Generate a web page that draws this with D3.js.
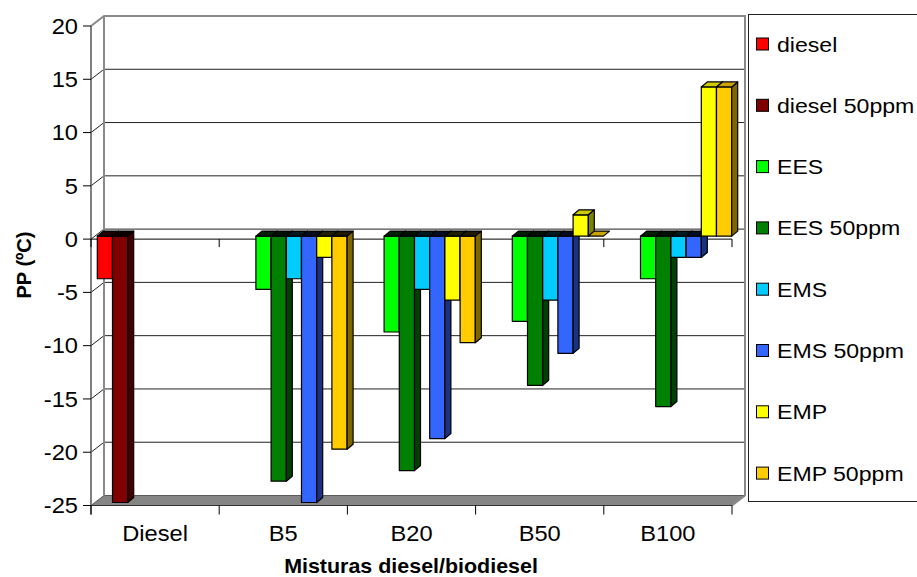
<!DOCTYPE html>
<html>
<head>
<meta charset="utf-8">
<script src="https://cdn.jsdelivr.net/npm/d3@7"></script>
<style>
  html, body { margin: 0; padding: 0; background: #fff; }
  svg { display: block; font-family: Arial, "Liberation Sans", sans-serif; }
</style>
</head>
<body>
<svg id="chart" width="917" height="577"></svg>
<script>
// PP (ºC) of diesel/biodiesel blends, pseudo-3D clustered columns.

const categories = ["Diesel", "B5", "B20", "B50", "B100"];
const seriesNames = ["diesel", "diesel 50ppm", "EES", "EES 50ppm", "EMS", "EMS 50ppm", "EMP", "EMP 50ppm"];
const seriesColors = ["#ff0000", "#800000", "#00ff00", "#008000", "#00ccff", "#3366ff", "#ffff00", "#ffcc00"];

const diesel   = [-4, null, null, null, null];
const diesel50 = [-25, null, null, null, null];
const ees      = [null, -5, -9, -8, -4];
const ees50    = [null, -23, -22, -14, -16];
const ems      = [null, -4, -5, -6, -2];
const ems50    = [null, -25, -19, -11, -2];
const emp      = [null, -2, -6, 2, 14];
const emp50    = [null, -20, -10, 0, 14];

const yTicks = [20, 15, 10, 5, 0, -5, -10, -15, -20, -25];

const seriesValues = [diesel, diesel50, ees, ees50, ems, ems50, emp, emp50];

const X0 = 91, X1 = 732, Y_TOP = 26, Y_BOT = 505.5;
const DX = 13, DY = 10;          // wall depth
const BX = 3, BY = 3;            // bar front offset into depth
const BDX = 6, BDY = 5;          // bar depth
const STRETCH = 1.1;

const svg = d3.select("#chart");
const y = d3.scaleLinear().domain([-25, 20]).range([Y_BOT, Y_TOP]);
const x = d3.scaleBand().domain(categories).range([X0, X1]).padding(0);
const catW = x.bandwidth();
const xs = d3.scaleBand().domain(seriesNames).range([3.3, catW - 3.3]).padding(0);

function shade(c, k) {
  const r = d3.rgb(c);
  return d3.rgb(r.r * k, r.g * k, r.b * k).formatHex();
}
function txt(g, px, py, s, anchor, size, bold) {
  return g.append("text")
    .attr("transform", `translate(${px},${py}) scale(${STRETCH},1)`)
    .attr("text-anchor", anchor)
    .style("font-size", size + "px")
    .style("font-weight", bold ? "bold" : "normal")
    .style("fill", "#000")
    .text(s);
}

// walls
const walls = svg.append("g");
walls.append("polygon")
  .attr("points", [[X0, Y_BOT], [X0 + DX, Y_BOT - DY], [X1 + DX, Y_BOT - DY], [X1, Y_BOT]].join(" "))
  .attr("fill", "#858585").attr("stroke", "#5a5a5a").attr("stroke-width", 1);

yTicks.filter((v) => v > -25 && v < 20).forEach((v) => {
  walls.append("line").attr("x1", X0 + DX).attr("x2", X1 + DX)
    .attr("y1", y(v) - DY).attr("y2", y(v) - DY)
    .attr("stroke", "#222").attr("stroke-width", 1);
  walls.append("line").attr("x1", X0).attr("x2", X0 + DX)
    .attr("y1", y(v)).attr("y2", y(v) - DY)
    .attr("stroke", "#222").attr("stroke-width", 1);
});

walls.append("polyline")
  .attr("points", [[X0, y(20)], [X0 + DX, y(20) - DY], [X1 + DX, y(20) - DY], [X1 + DX, Y_BOT - DY], [X1, Y_BOT]].join(" "))
  .attr("fill", "none").attr("stroke", "#8a8a8a").attr("stroke-width", 2);
walls.append("line").attr("x1", X0 + DX).attr("x2", X0 + DX)
  .attr("y1", y(20) - DY).attr("y2", Y_BOT - DY)
  .attr("stroke", "#8a8a8a").attr("stroke-width", 2);

// value axis
const yAx = svg.append("g");
yAx.append("line").attr("x1", X0).attr("x2", X0).attr("y1", y(20)).attr("y2", Y_BOT + 9)
  .attr("stroke", "#555").attr("stroke-width", 1.5);
yTicks.forEach((v) => {
  yAx.append("line").attr("x1", X0 - 8).attr("x2", X0).attr("y1", y(v)).attr("y2", y(v))
    .attr("stroke", "#000").attr("stroke-width", 1);
  txt(yAx, 78, y(v) + 7.8, String(v), "end", 21.5, false);
});

// category axis at 0 and floor edge
const xAx = svg.append("g");
xAx.append("line").attr("x1", X0).attr("x2", X1).attr("y1", y(0)).attr("y2", y(0))
  .attr("stroke", "#000").attr("stroke-width", 1);
xAx.append("line").attr("x1", X0).attr("x2", X1).attr("y1", Y_BOT).attr("y2", Y_BOT)
  .attr("stroke", "#333").attr("stroke-width", 1);
const bounds = categories.map((c) => x(c)).concat([X1]);
bounds.forEach((bx) => {
  xAx.append("line").attr("x1", bx).attr("x2", bx).attr("y1", y(0)).attr("y2", y(0) + 8)
    .attr("stroke", "#000").attr("stroke-width", 1);
  xAx.append("line").attr("x1", bx).attr("x2", bx).attr("y1", Y_BOT).attr("y2", Y_BOT + 9)
    .attr("stroke", "#000").attr("stroke-width", 1);
});
categories.forEach((c) => txt(xAx, x(c) + catW / 2, 541, c, "middle", 21.5, false));

// bars, left to right so each face covers the previous side
const bars = svg.append("g").attr("stroke", "#000").attr("stroke-width", 1.2).attr("stroke-linejoin", "round");
categories.forEach((c, ci) => {
  seriesNames.forEach((s, si) => {
    const v = seriesValues[si][ci];
    if (v == null) return;
    const col = seriesColors[si];
    const left = x(c) + xs(s) + BX, w = xs.bandwidth();
    const yTop = y(Math.max(v, 0)) - BY, yBot = y(Math.min(v, 0)) - BY;
    const g = bars.append("g");
    if (yBot - yTop > 0.5) {
      g.append("rect").attr("x", left).attr("y", yTop).attr("width", w).attr("height", yBot - yTop)
        .attr("fill", col);
      g.append("polygon")
        .attr("points", [[left + w, yTop], [left + w + BDX, yTop - BDY], [left + w + BDX, yBot - BDY], [left + w, yBot]].join(" "))
        .attr("fill", shade(col, 0.5));
    }
    g.append("polygon")
      .attr("points", [[left, yTop], [left + BDX, yTop - BDY], [left + w + BDX, yTop - BDY], [left + w, yTop]].join(" "))
      .attr("fill", v >= 0 ? shade(col, 0.8) : shade(col, 0.12));
  });
});

// legend
const lg = svg.append("g");
lg.append("rect").attr("x", 748.5).attr("y", 14.5).attr("width", 175).attr("height", 487)
  .attr("fill", "#fff").attr("stroke", "#222").attr("stroke-width", 1);
seriesNames.forEach((s, i) => {
  const cy = 44 + i * 61.3;
  lg.append("rect").attr("x", 756.5).attr("y", cy - 6).attr("width", 12).attr("height", 12)
    .attr("fill", seriesColors[i]).attr("stroke", "#000").attr("stroke-width", 1);
  txt(lg, 777, cy + 7.5, s, "start", 21, false);
});

// axis titles
txt(svg, 411, 573, "Misturas diesel/biodiesel", "middle", 19.5, true);
svg.append("text")
  .attr("transform", "translate(31,265) rotate(-90)")
  .attr("text-anchor", "middle")
  .style("font-size", "20px").style("font-weight", "bold")
  .text("PP (ºC)");
</script>
</body>
</html>
